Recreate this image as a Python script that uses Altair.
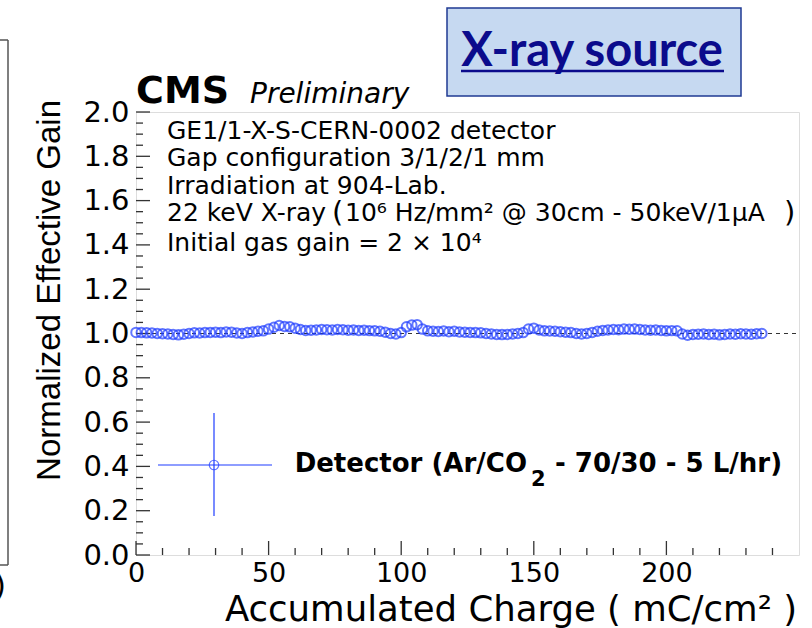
import altair as alt
import numpy as np
import pandas as pd

# Accumulated charge (mC/cm^2) and normalized effective gain of the detector
charge = [
    0, 2, 4, 6, 8, 10, 12, 14, 16, 18, 20, 22, 24, 26, 28, 30, 32, 34, 36, 38,
    40, 42, 44, 46, 48, 50, 52, 54, 56, 58, 60, 62, 64, 66, 68, 70, 72, 74, 76, 78,
    80, 82, 84, 86, 88, 90, 92, 94, 96, 98, 100, 102, 104, 106, 108, 110, 112, 114, 116, 118,
    120, 122, 124, 126, 128, 130, 132, 134, 136, 138, 140, 142, 144, 146, 148, 150, 152, 154, 156, 158,
    160, 162, 164, 166, 168, 170, 172, 174, 176, 178, 180, 182, 184, 186, 188, 190, 192, 194, 196, 198,
    200, 202, 204, 206, 208, 210, 212, 214, 216, 218, 220, 222, 224, 226, 228, 230, 232, 234, 236,
]
gain = [
    1.005, 1.004, 1.003, 1.002, 1.000, 0.999, 0.998, 0.996, 0.994, 0.997,
    1.000, 1.003, 1.002, 1.004, 1.005, 1.006, 1.004, 1.007, 1.006, 1.002,
    1.000, 1.004, 1.007, 1.010, 1.012, 1.020, 1.028, 1.036, 1.032, 1.030,
    1.024, 1.018, 1.014, 1.015, 1.016, 1.018, 1.017, 1.016, 1.018, 1.017,
    1.015, 1.016, 1.014, 1.015, 1.013, 1.012, 1.010, 1.006, 1.000, 0.998,
    1.004, 1.030, 1.038, 1.040, 1.020, 1.012, 1.010, 1.009, 1.011, 1.008,
    1.010, 1.007, 1.006, 1.005, 1.004, 1.003, 1.000, 0.998, 0.996, 0.995,
    0.996, 0.998, 1.000, 1.004, 1.020, 1.024, 1.016, 1.012, 1.011, 1.010,
    1.008, 1.006, 1.004, 1.000, 0.998, 1.000, 1.005, 1.010, 1.014, 1.016,
    1.018, 1.017, 1.020, 1.019, 1.020, 1.018, 1.016, 1.015, 1.016, 1.014,
    1.012, 1.013, 1.012, 0.998, 0.992, 0.996, 0.997, 0.998, 0.996, 0.997,
    0.994, 0.996, 0.998, 0.997, 0.999, 0.998, 0.997, 0.999, 1.000,
]

x_labels = [0, 50, 100, 150, 200]
y_labels = [0.0, 0.2, 0.4, 0.6, 0.8, 1.0, 1.2, 1.4, 1.6, 1.8, 2.0]
x_minor = [v for v in range(0, 251, 10) if v % 50 != 0]
y_minor = [round(v, 2) for v in np.arange(0.0, 2.001, 0.05) if round(v * 100) % 20 != 0]

info_lines = [
    "GE1/1-X-S-CERN-0002 detector",
    "Gap configuration 3/1/2/1 mm",
    "Irradiation at 904-Lab.",
]
source_line = ["22 keV X-ray", "(", "10\u2076 Hz/mm\u00b2 @ 30cm - 50keV/1\u03bcA", ")"]
gain_line = "Initial gas gain = 2 \u00d7 10\u2074"

W, H = 663, 443
FONT = "DejaVu Sans"
BLUE = "#1f3dff"

xs = alt.Scale(domain=[0, 250], nice=False, zero=False)
ys = alt.Scale(domain=[0, 2], nice=False, zero=False)

df = pd.DataFrame({"charge": charge, "gain": gain})

x_axis = alt.Axis(values=x_labels, format="d", ticks=False, domain=False, grid=False,
                  labelFont=FONT, labelFontSize=27, labelColor="black", labelPadding=5,
                  labelFlush=False, labelOverlap=False, title=None)
y_axis = alt.Axis(values=y_labels, format=".1f", ticks=False, domain=False, grid=False,
                  labelFont=FONT, labelFontSize=29, labelColor="black", labelPadding=7,
                  labelFlush=False, labelOverlap=False, title=None)

points = alt.Chart(df).mark_point(shape="circle", filled=False, size=90, strokeWidth=2,
                                  color=BLUE, clip=False).encode(
    x=alt.X("charge:Q", scale=xs, axis=x_axis),
    y=alt.Y("gain:Q", scale=ys, axis=y_axis),
)

# reference line at unit gain
ref = alt.Chart(pd.DataFrame({"y": [1.0]})).mark_rule(
    color="#333333", strokeWidth=1.2, strokeDash=[4, 4]).encode(
    y=alt.Y("y:Q", scale=ys), x=alt.value(0), x2=alt.value(W))


def ticks_y(vals, length):
    return alt.Chart(pd.DataFrame({"v": vals})).mark_rule(color="#333333", strokeWidth=1.3).encode(
        y=alt.Y("v:Q", scale=ys), x=alt.value(0), x2=alt.value(length))


def ticks_x(vals, length):
    return alt.Chart(pd.DataFrame({"v": vals})).mark_rule(color="#333333", strokeWidth=1.3).encode(
        x=alt.X("v:Q", scale=xs), y=alt.value(H), y2=alt.value(H - length))


def label(text, x, y, size, align="left", baseline="alphabetic", weight="normal",
          style="normal", font=FONT, color="black", angle=0):
    return alt.Chart(pd.DataFrame({"t": [text]})).mark_text(
        align=align, baseline=baseline, fontSize=size, fontWeight=weight, fontStyle=style,
        font=font, color=color, angle=angle).encode(
        text="t:N", x=alt.value(x), y=alt.value(y))


def seg(x1, y1, x2, y2, color, width):
    return alt.Chart(pd.DataFrame({"a": [0]})).mark_rule(color=color, strokeWidth=width).encode(
        x=alt.value(x1), x2=alt.value(x2), y=alt.value(y1), y2=alt.value(y2))


layers = [
    ticks_y(y_labels, 14), ticks_y(y_minor, 7),
    ticks_x(x_labels, 14), ticks_x(x_minor, 7),
    ref, points,
]

# experiment header
layers.append(label("CMS", 0, -9, 38, weight="bold"))
layers.append(label("Preliminary", 114, -9, 28, style="italic"))

# source tag box
box = alt.Chart(pd.DataFrame({"a": [0]})).mark_rect(
    fill="#c6d9f1", stroke="#1f3a93", strokeWidth=1.5).encode(
    x=alt.value(311), x2=alt.value(605), y=alt.value(-104), y2=alt.value(-16))
layers.append(box)
layers.append(label("X-ray source", 456, -46, 47, align="center", weight="bold",
                    font="Lato", color="#0b0b8c"))
layers.append(seg(325, -41, 588, -41, "#0b0b8c", 2.5))

# run description
for line, base in zip(info_lines, [27, 54, 82]):
    layers.append(label(line, 31, base, 25))
layers.append(label(source_line[0], 31, 109, 25))
layers.append(label(source_line[1], 196, 110, 29))
layers.append(label(source_line[2], 209, 109, 25))
layers.append(label(source_line[3], 648, 110, 29))
layers.append(label(gain_line, 31, 139, 25))

# legend entry
layers.append(seg(78, 301, 78, 404, BLUE, 1.2))
layers.append(seg(22, 353, 136, 353, BLUE, 1.2))
layers.append(alt.Chart(pd.DataFrame({"a": [0]})).mark_point(
    shape="circle", filled=False, size=90, strokeWidth=1.2, color=BLUE).encode(
    x=alt.value(78), y=alt.value(353)))
layers.append(label("Detector (Ar/CO", 391, 360, 26, align="right", weight="bold"))
layers.append(label("2", 395, 374, 21, weight="bold"))
layers.append(label("- 70/30 - 5 L/hr)", 419, 360, 26, weight="bold"))

# axis titles
layers.append(label("Accumulated Charge ( mC/cm\u00b2 )", 661, 509, 35.5, align="right"))
layers.append(label("Normalized Effective Gain", -76, -12, 33, align="right",
                    font="Liberation Sans", angle=270))

# neighbouring frame edge on the left
layers.append(seg(-128, -72, -128, 453, "#555555", 1.5))
layers.append(seg(-136, -72, -128, -72, "#555555", 1.5))
layers.append(seg(-136, 453, -128, 453, "#555555", 1.5))
layers.append(label(")", -130, 475, 30, align="right", baseline="middle"))

chart = alt.layer(*layers).properties(
    width=W, height=H,
    autosize=alt.AutoSizeParams(type="none"),
    padding={"left": 136, "top": 112, "right": 13, "bottom": 73},
).configure_view(stroke="#333333", strokeWidth=2).configure(background="white")

chart.save("out.html", embed_options={"renderer": "svg", "actions": False})
